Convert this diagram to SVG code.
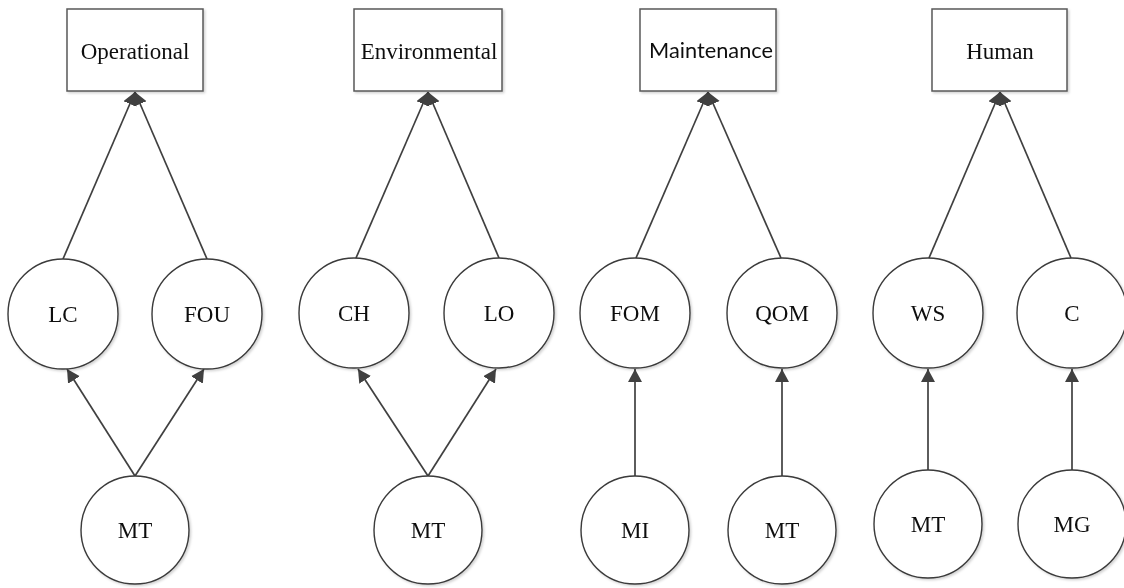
<svg xmlns="http://www.w3.org/2000/svg" width="1124" height="588" viewBox="0 0 1124 588">
  <defs>
    <marker id="arrow" markerUnits="userSpaceOnUse" markerWidth="16" markerHeight="16" refX="13" refY="7" orient="auto">
      <path d="M0,0 L13,7 L0,14 z" fill="#404040"/>
    </marker>
    <filter id="shadow" x="-10%" y="-10%" width="130%" height="130%">
      <feDropShadow dx="1.5" dy="1.5" stdDeviation="0.8" flood-color="#000" flood-opacity="0.18"/>
    </filter>
    <style>
      .box { fill: #fff; stroke: #595959; stroke-width: 1.5; }
      .node { fill: #fff; stroke: #3a3a3a; stroke-width: 1.4; }
      .lbl { font-family: "Liberation Serif", "Times New Roman", serif; font-size: 23px; fill: #111; text-anchor: middle; }
      .lbl-sans { font-family: Lato, "Open Sans", "Liberation Sans", sans-serif; font-size: 22px; fill: #111; text-anchor: middle; }
      .edge { stroke: #404040; stroke-width: 1.7; fill: none; marker-end: url(#arrow); }
    </style>
  </defs>
  <rect width="1124" height="588" fill="#fff"/>

  <!-- connectors -->
  <g id="connectors">
    <!-- Operational -->
    <line class="edge" x1="63" y1="259" x2="135" y2="92"/>
    <line class="edge" x1="207" y1="259" x2="135" y2="92"/>
    <line class="edge" x1="135" y1="476" x2="67" y2="369"/>
    <line class="edge" x1="135" y1="476" x2="204" y2="369"/>
    <!-- Environmental -->
    <line class="edge" x1="356" y1="258" x2="428" y2="92"/>
    <line class="edge" x1="499" y1="258" x2="428" y2="92"/>
    <line class="edge" x1="428" y1="476" x2="358" y2="369"/>
    <line class="edge" x1="428" y1="476" x2="496" y2="369"/>
    <!-- Maintenance -->
    <line class="edge" x1="636" y1="258" x2="708" y2="92"/>
    <line class="edge" x1="781" y1="258" x2="708" y2="92"/>
    <line class="edge" x1="635" y1="476" x2="635" y2="369"/>
    <line class="edge" x1="782" y1="476" x2="782" y2="369"/>
    <!-- Human -->
    <line class="edge" x1="929" y1="258" x2="1000" y2="92"/>
    <line class="edge" x1="1071" y1="258" x2="1000" y2="92"/>
    <line class="edge" x1="928" y1="470" x2="928" y2="369"/>
    <line class="edge" x1="1072" y1="470" x2="1072" y2="369"/>
  </g>

  <g filter="url(#shadow)">
    <!-- category boxes -->
    <g id="operational">
      <rect class="box" x="67" y="9" width="136" height="82"/>
      <text class="lbl" x="135" y="59">Operational</text>
    </g>
    <g id="environmental">
      <rect class="box" x="354" y="9" width="148" height="82"/>
      <text class="lbl" x="429" y="59">Environmental</text>
    </g>
    <g id="maintenance">
      <rect class="box" x="640" y="9" width="136" height="82"/>
      <text class="lbl-sans" x="711" y="58" textLength="124" lengthAdjust="spacingAndGlyphs">Maintenance</text>
    </g>
    <g id="human">
      <rect class="box" x="932" y="9" width="135" height="82"/>
      <text class="lbl" x="1000" y="59">Human</text>
    </g>

    <!-- factor nodes -->
    <g id="lc"><circle class="node" cx="63" cy="314" r="55"/><text class="lbl" x="63" y="322">LC</text></g>
    <g id="fou"><circle class="node" cx="207" cy="314" r="55"/><text class="lbl" x="207" y="322">FOU</text></g>
    <g id="ch"><circle class="node" cx="354" cy="313" r="55"/><text class="lbl" x="354" y="321">CH</text></g>
    <g id="lo"><circle class="node" cx="499" cy="313" r="55"/><text class="lbl" x="499" y="321">LO</text></g>
    <g id="fom"><circle class="node" cx="635" cy="313" r="55"/><text class="lbl" x="635" y="321">FOM</text></g>
    <g id="qom"><circle class="node" cx="782" cy="313" r="55"/><text class="lbl" x="782" y="321">QOM</text></g>
    <g id="ws"><circle class="node" cx="928" cy="313" r="55"/><text class="lbl" x="928" y="321">WS</text></g>
    <g id="c"><circle class="node" cx="1072" cy="313" r="55"/><text class="lbl" x="1072" y="321">C</text></g>

    <!-- source nodes -->
    <g id="mt-op"><circle class="node" cx="135" cy="530" r="54"/><text class="lbl" x="135" y="538">MT</text></g>
    <g id="mt-env"><circle class="node" cx="428" cy="530" r="54"/><text class="lbl" x="428" y="538">MT</text></g>
    <g id="mi"><circle class="node" cx="635" cy="530" r="54"/><text class="lbl" x="635" y="538">MI</text></g>
    <g id="mt-maint"><circle class="node" cx="782" cy="530" r="54"/><text class="lbl" x="782" y="538">MT</text></g>
    <g id="mt-hum"><circle class="node" cx="928" cy="524" r="54"/><text class="lbl" x="928" y="532">MT</text></g>
    <g id="mg"><circle class="node" cx="1072" cy="524" r="54"/><text class="lbl" x="1072" y="532">MG</text></g>
  </g>
</svg>
